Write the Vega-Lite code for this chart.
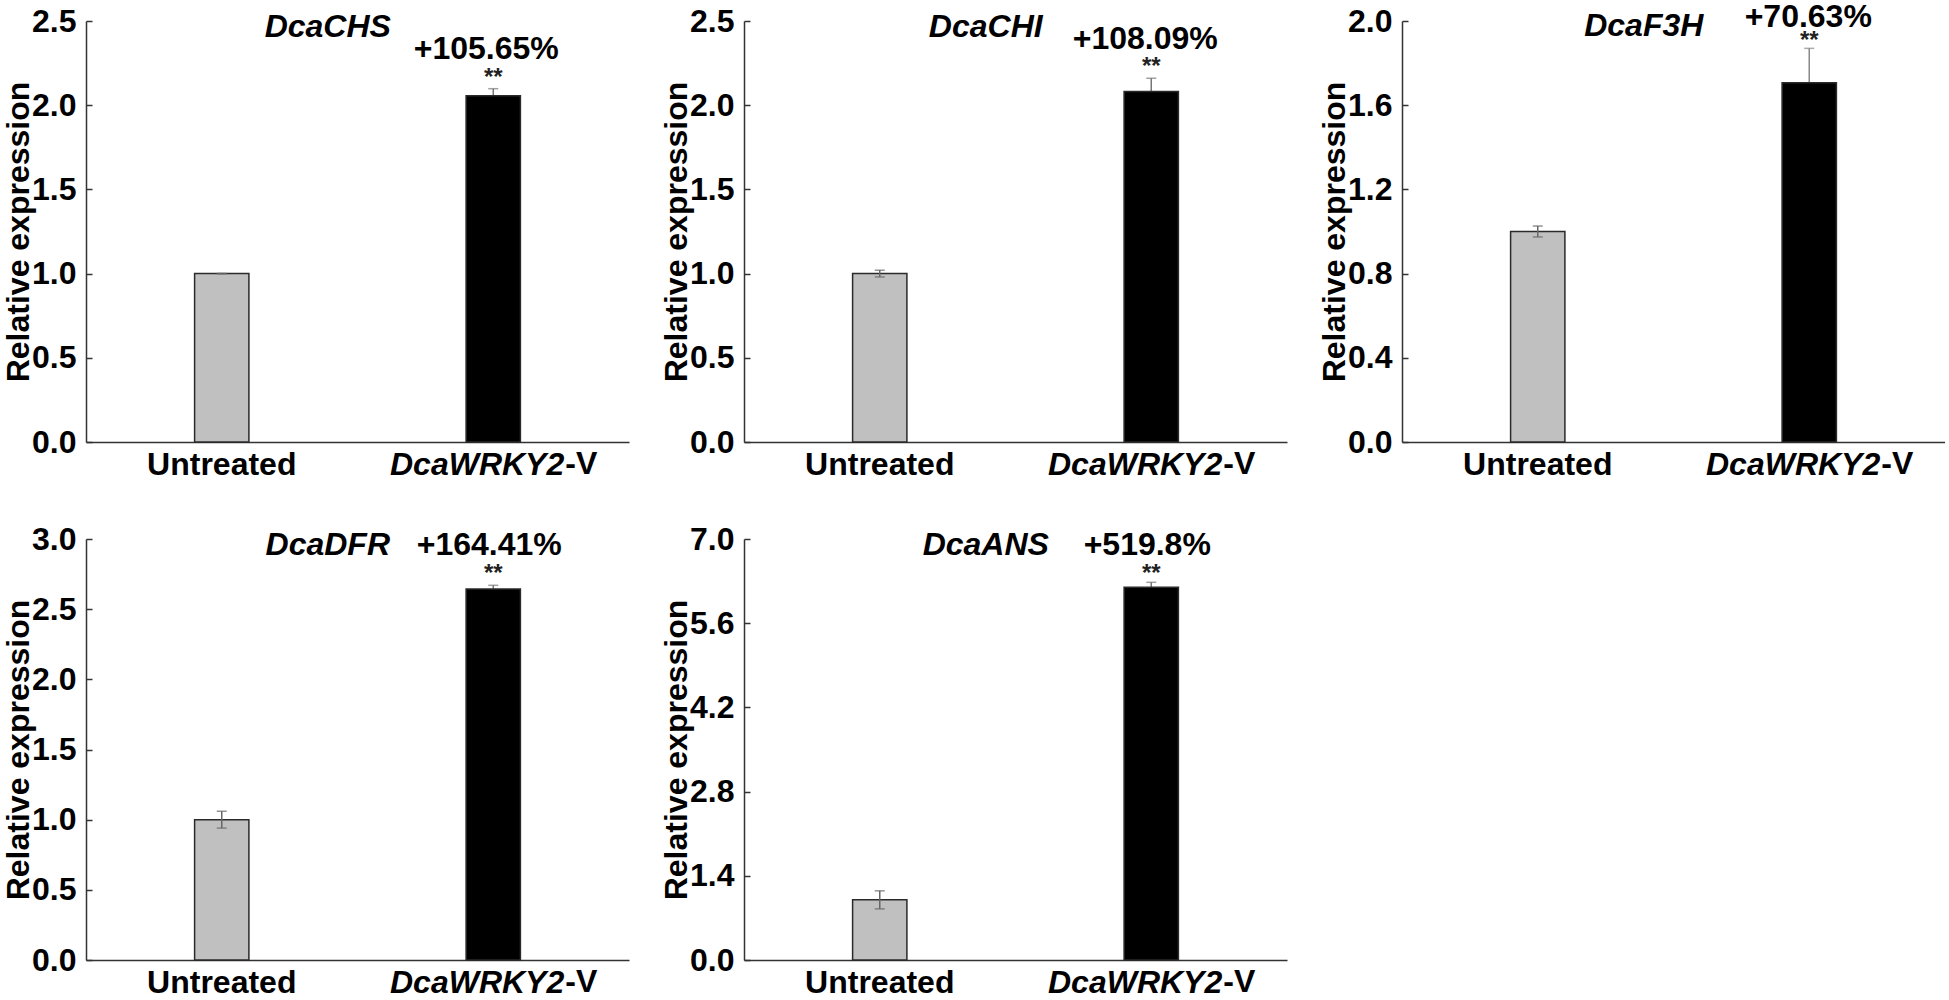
{
  "$schema": "https://vega.github.io/schema/vega-lite/v6.json",
  "background": "white",
  "padding": {"left": 2, "top": 0, "right": 0, "bottom": 0},
  "columns": 3,
  "spacing": {"row": 97, "column": 115},
  "bounds": "flush",
  "datasets": {
    "all": [
      {"gene": "DcaCHS", "kind": "bar", "group": "Untreated", "value": 1.0, "lo": 1.0, "hi": 1.0},
      {"gene": "DcaCHS", "kind": "bar", "group": "DcaWRKY2-V", "value": 2.0565, "lo": 2.017, "hi": 2.098},
      {"gene": "DcaCHS", "kind": "title", "group": "Untreated", "label": "DcaCHS", "value": 2.465},
      {"gene": "DcaCHS", "kind": "pct", "group": "DcaWRKY2-V", "label": "+105.65%", "value": 2.333},
      {"gene": "DcaCHS", "kind": "sig", "group": "DcaWRKY2-V", "label": "**", "value": 2.2},
      {"gene": "DcaCHS", "kind": "suffix", "group": "DcaWRKY2-V", "label": "-V", "value": 0},

      {"gene": "DcaCHI", "kind": "bar", "group": "Untreated", "value": 1.0, "lo": 0.98, "hi": 1.02},
      {"gene": "DcaCHI", "kind": "bar", "group": "DcaWRKY2-V", "value": 2.0809, "lo": 2.005, "hi": 2.16},
      {"gene": "DcaCHI", "kind": "title", "group": "Untreated", "label": "DcaCHI", "value": 2.465},
      {"gene": "DcaCHI", "kind": "pct", "group": "DcaWRKY2-V", "label": "+108.09%", "value": 2.393},
      {"gene": "DcaCHI", "kind": "sig", "group": "DcaWRKY2-V", "label": "**", "value": 2.26},
      {"gene": "DcaCHI", "kind": "suffix", "group": "DcaWRKY2-V", "label": "-V", "value": 0},

      {"gene": "DcaF3H", "kind": "bar", "group": "Untreated", "value": 1.0, "lo": 0.974, "hi": 1.026},
      {"gene": "DcaF3H", "kind": "bar", "group": "DcaWRKY2-V", "value": 1.7063, "lo": 1.546, "hi": 1.87},
      {"gene": "DcaF3H", "kind": "title", "group": "Untreated", "label": "DcaF3H", "value": 1.976},
      {"gene": "DcaF3H", "kind": "pct", "group": "DcaWRKY2-V", "label": "+70.63%", "value": 2.02},
      {"gene": "DcaF3H", "kind": "sig", "group": "DcaWRKY2-V", "label": "**", "value": 1.94},
      {"gene": "DcaF3H", "kind": "suffix", "group": "DcaWRKY2-V", "label": "-V", "value": 0},

      {"gene": "DcaDFR", "kind": "bar", "group": "Untreated", "value": 1.0, "lo": 0.94, "hi": 1.06},
      {"gene": "DcaDFR", "kind": "bar", "group": "DcaWRKY2-V", "value": 2.6441, "lo": 2.62, "hi": 2.67},
      {"gene": "DcaDFR", "kind": "title", "group": "Untreated", "label": "DcaDFR", "value": 2.957},
      {"gene": "DcaDFR", "kind": "pct", "group": "DcaWRKY2-V", "label": "+164.41%", "value": 2.957},
      {"gene": "DcaDFR", "kind": "sig", "group": "DcaWRKY2-V", "label": "**", "value": 2.79},
      {"gene": "DcaDFR", "kind": "suffix", "group": "DcaWRKY2-V", "label": "-V", "value": 0},

      {"gene": "DcaANS", "kind": "bar", "group": "Untreated", "value": 1.0, "lo": 0.85, "hi": 1.15},
      {"gene": "DcaANS", "kind": "bar", "group": "DcaWRKY2-V", "value": 6.198, "lo": 6.12, "hi": 6.28},
      {"gene": "DcaANS", "kind": "title", "group": "Untreated", "label": "DcaANS", "value": 6.9},
      {"gene": "DcaANS", "kind": "pct", "group": "DcaWRKY2-V", "label": "+519.8%", "value": 6.9},
      {"gene": "DcaANS", "kind": "sig", "group": "DcaWRKY2-V", "label": "**", "value": 6.52},
      {"gene": "DcaANS", "kind": "suffix", "group": "DcaWRKY2-V", "label": "-V", "value": 0}
    ]
  },
  "concat": [
    {
      "width": 543, "height": 421,
      "data": {"name": "all"},
      "transform": [{"filter": "datum.gene === 'DcaCHS'"}],
      "encoding": {
        "x": {"field": "group", "type": "nominal", "sort": ["Untreated", "DcaWRKY2-V"], "scale": {"domain": ["Untreated", "DcaWRKY2-V"], "paddingInner": 0.8, "paddingOuter": 0.4}, "title": null,
          "axis": {"labelExpr": "datum.value === 'DcaWRKY2-V' ? 'DcaWRKY2' : datum.value",
            "labelFontStyle": {"condition": {"test": "datum.value === 'DcaWRKY2-V'", "value": "italic"}, "value": "normal"},
            "labelAlign": {"condition": {"test": "datum.value === 'DcaWRKY2-V'", "value": "right"}, "value": "center"},
            "labelOffset": {"condition": {"test": "datum.value === 'DcaWRKY2-V'", "value": 71}, "value": 0}}},
        "y": {"field": "value", "type": "quantitative", "scale": {"domain": [0, 2.5], "nice": false}, "title": "Relative expression", "axis": {"values": [0, 0.5, 1, 1.5, 2, 2.5], "format": ".1f"}}
      },
      "layer": [
        {"transform": [{"filter": "datum.kind === 'bar' && datum.group === 'DcaWRKY2-V'"}], "mark": {"type": "rule", "color": "#777", "strokeWidth": 1.5}, "encoding": {"y": {"field": "lo", "type": "quantitative", "scale": {"domain": [0, 2.5], "nice": false}, "title": "Relative expression"}, "y2": {"field": "hi"}}},
        {"transform": [{"filter": "datum.kind === 'bar' && datum.group === 'DcaWRKY2-V'"}], "mark": {"type": "tick", "orient": "horizontal", "size": 10, "thickness": 1.5, "color": "#777"}, "encoding": {"y": {"field": "hi", "type": "quantitative", "scale": {"domain": [0, 2.5], "nice": false}, "title": "Relative expression"}}},
        {"transform": [{"filter": "datum.kind === 'bar'"}], "mark": {"type": "bar", "stroke": "#2a2a2a", "strokeWidth": 1.5}, "encoding": {"color": {"field": "group", "type": "nominal", "scale": {"domain": ["Untreated", "DcaWRKY2-V"], "range": ["#c0c0c0", "#000000"]}, "legend": null}}},
        {"transform": [{"filter": "datum.kind === 'bar' && datum.group === 'Untreated'"}], "mark": {"type": "rule", "color": "#666", "strokeWidth": 1.5}, "encoding": {"y": {"field": "lo", "type": "quantitative", "scale": {"domain": [0, 2.5], "nice": false}, "title": "Relative expression"}, "y2": {"field": "hi"}}},
        {"transform": [{"filter": "datum.kind === 'bar' && datum.group === 'Untreated'"}], "mark": {"type": "tick", "orient": "horizontal", "size": 10, "thickness": 1.5, "color": "#666"}, "encoding": {"y": {"field": "lo", "type": "quantitative", "scale": {"domain": [0, 2.5], "nice": false}, "title": "Relative expression"}}},
        {"transform": [{"filter": "datum.kind === 'bar' && datum.group === 'Untreated'"}], "mark": {"type": "tick", "orient": "horizontal", "size": 10, "thickness": 1.5, "color": "#666"}, "encoding": {"y": {"field": "hi", "type": "quantitative", "scale": {"domain": [0, 2.5], "nice": false}, "title": "Relative expression"}}},
        {"transform": [{"filter": "datum.kind === 'title'"}], "mark": {"type": "text", "fontSize": 32, "fontWeight": "bold", "fontStyle": "italic", "align": "center", "baseline": "middle", "dx": 106, "color": "#000"}, "encoding": {"text": {"field": "label"}}},
        {"transform": [{"filter": "datum.kind === 'pct'"}], "mark": {"type": "text", "fontSize": 32, "fontWeight": "bold", "align": "center", "baseline": "middle", "dx": -7, "color": "#000"}, "encoding": {"text": {"field": "label"}}},
        {"transform": [{"filter": "datum.kind === 'sig'"}], "mark": {"type": "text", "fontSize": 24, "fontWeight": "bold", "align": "center", "baseline": "middle", "dy": 6, "color": "#222"}, "encoding": {"text": {"field": "label"}}},
        {"transform": [{"filter": "datum.kind === 'suffix'"}], "mark": {"type": "text", "fontSize": 32, "fontWeight": "bold", "align": "left", "baseline": "top", "dx": 72, "dy": 7, "color": "#000"}, "encoding": {"text": {"field": "label"}}}
      ]
    },
    {
      "width": 543, "height": 421,
      "data": {"name": "all"},
      "transform": [{"filter": "datum.gene === 'DcaCHI'"}],
      "encoding": {
        "x": {"field": "group", "type": "nominal", "sort": ["Untreated", "DcaWRKY2-V"], "scale": {"domain": ["Untreated", "DcaWRKY2-V"], "paddingInner": 0.8, "paddingOuter": 0.4}, "title": null,
          "axis": {"labelExpr": "datum.value === 'DcaWRKY2-V' ? 'DcaWRKY2' : datum.value",
            "labelFontStyle": {"condition": {"test": "datum.value === 'DcaWRKY2-V'", "value": "italic"}, "value": "normal"},
            "labelAlign": {"condition": {"test": "datum.value === 'DcaWRKY2-V'", "value": "right"}, "value": "center"},
            "labelOffset": {"condition": {"test": "datum.value === 'DcaWRKY2-V'", "value": 71}, "value": 0}}},
        "y": {"field": "value", "type": "quantitative", "scale": {"domain": [0, 2.5], "nice": false}, "title": "Relative expression", "axis": {"values": [0, 0.5, 1, 1.5, 2, 2.5], "format": ".1f"}}
      },
      "layer": [
        {"transform": [{"filter": "datum.kind === 'bar' && datum.group === 'DcaWRKY2-V'"}], "mark": {"type": "rule", "color": "#777", "strokeWidth": 1.5}, "encoding": {"y": {"field": "lo", "type": "quantitative", "scale": {"domain": [0, 2.5], "nice": false}, "title": "Relative expression"}, "y2": {"field": "hi"}}},
        {"transform": [{"filter": "datum.kind === 'bar' && datum.group === 'DcaWRKY2-V'"}], "mark": {"type": "tick", "orient": "horizontal", "size": 10, "thickness": 1.5, "color": "#777"}, "encoding": {"y": {"field": "hi", "type": "quantitative", "scale": {"domain": [0, 2.5], "nice": false}, "title": "Relative expression"}}},
        {"transform": [{"filter": "datum.kind === 'bar'"}], "mark": {"type": "bar", "stroke": "#2a2a2a", "strokeWidth": 1.5}, "encoding": {"color": {"field": "group", "type": "nominal", "scale": {"domain": ["Untreated", "DcaWRKY2-V"], "range": ["#c0c0c0", "#000000"]}, "legend": null}}},
        {"transform": [{"filter": "datum.kind === 'bar' && datum.group === 'Untreated'"}], "mark": {"type": "rule", "color": "#666", "strokeWidth": 1.5}, "encoding": {"y": {"field": "lo", "type": "quantitative", "scale": {"domain": [0, 2.5], "nice": false}, "title": "Relative expression"}, "y2": {"field": "hi"}}},
        {"transform": [{"filter": "datum.kind === 'bar' && datum.group === 'Untreated'"}], "mark": {"type": "tick", "orient": "horizontal", "size": 10, "thickness": 1.5, "color": "#666"}, "encoding": {"y": {"field": "lo", "type": "quantitative", "scale": {"domain": [0, 2.5], "nice": false}, "title": "Relative expression"}}},
        {"transform": [{"filter": "datum.kind === 'bar' && datum.group === 'Untreated'"}], "mark": {"type": "tick", "orient": "horizontal", "size": 10, "thickness": 1.5, "color": "#666"}, "encoding": {"y": {"field": "hi", "type": "quantitative", "scale": {"domain": [0, 2.5], "nice": false}, "title": "Relative expression"}}},
        {"transform": [{"filter": "datum.kind === 'title'"}], "mark": {"type": "text", "fontSize": 32, "fontWeight": "bold", "fontStyle": "italic", "align": "center", "baseline": "middle", "dx": 106, "color": "#000"}, "encoding": {"text": {"field": "label"}}},
        {"transform": [{"filter": "datum.kind === 'pct'"}], "mark": {"type": "text", "fontSize": 32, "fontWeight": "bold", "align": "center", "baseline": "middle", "dx": -6, "color": "#000"}, "encoding": {"text": {"field": "label"}}},
        {"transform": [{"filter": "datum.kind === 'sig'"}], "mark": {"type": "text", "fontSize": 24, "fontWeight": "bold", "align": "center", "baseline": "middle", "dy": 6, "color": "#222"}, "encoding": {"text": {"field": "label"}}},
        {"transform": [{"filter": "datum.kind === 'suffix'"}], "mark": {"type": "text", "fontSize": 32, "fontWeight": "bold", "align": "left", "baseline": "top", "dx": 72, "dy": 7, "color": "#000"}, "encoding": {"text": {"field": "label"}}}
      ]
    },
    {
      "width": 543, "height": 421,
      "data": {"name": "all"},
      "transform": [{"filter": "datum.gene === 'DcaF3H'"}],
      "encoding": {
        "x": {"field": "group", "type": "nominal", "sort": ["Untreated", "DcaWRKY2-V"], "scale": {"domain": ["Untreated", "DcaWRKY2-V"], "paddingInner": 0.8, "paddingOuter": 0.4}, "title": null,
          "axis": {"labelExpr": "datum.value === 'DcaWRKY2-V' ? 'DcaWRKY2' : datum.value",
            "labelFontStyle": {"condition": {"test": "datum.value === 'DcaWRKY2-V'", "value": "italic"}, "value": "normal"},
            "labelAlign": {"condition": {"test": "datum.value === 'DcaWRKY2-V'", "value": "right"}, "value": "center"},
            "labelOffset": {"condition": {"test": "datum.value === 'DcaWRKY2-V'", "value": 71}, "value": 0}}},
        "y": {"field": "value", "type": "quantitative", "scale": {"domain": [0, 2.0], "nice": false}, "title": "Relative expression", "axis": {"values": [0, 0.4, 0.8, 1.2, 1.6, 2.0], "format": ".1f"}}
      },
      "layer": [
        {"transform": [{"filter": "datum.kind === 'bar' && datum.group === 'DcaWRKY2-V'"}], "mark": {"type": "rule", "color": "#888", "strokeWidth": 1.5}, "encoding": {"y": {"field": "lo", "type": "quantitative", "scale": {"domain": [0, 2.0], "nice": false}, "title": "Relative expression"}, "y2": {"field": "hi"}}},
        {"transform": [{"filter": "datum.kind === 'bar' && datum.group === 'DcaWRKY2-V'"}], "mark": {"type": "tick", "orient": "horizontal", "size": 10, "thickness": 1.5, "color": "#888"}, "encoding": {"y": {"field": "hi", "type": "quantitative", "scale": {"domain": [0, 2.0], "nice": false}, "title": "Relative expression"}}},
        {"transform": [{"filter": "datum.kind === 'bar'"}], "mark": {"type": "bar", "stroke": "#2a2a2a", "strokeWidth": 1.5}, "encoding": {"color": {"field": "group", "type": "nominal", "scale": {"domain": ["Untreated", "DcaWRKY2-V"], "range": ["#c0c0c0", "#000000"]}, "legend": null}}},
        {"transform": [{"filter": "datum.kind === 'bar' && datum.group === 'Untreated'"}], "mark": {"type": "rule", "color": "#666", "strokeWidth": 1.5}, "encoding": {"y": {"field": "lo", "type": "quantitative", "scale": {"domain": [0, 2.0], "nice": false}, "title": "Relative expression"}, "y2": {"field": "hi"}}},
        {"transform": [{"filter": "datum.kind === 'bar' && datum.group === 'Untreated'"}], "mark": {"type": "tick", "orient": "horizontal", "size": 10, "thickness": 1.5, "color": "#666"}, "encoding": {"y": {"field": "lo", "type": "quantitative", "scale": {"domain": [0, 2.0], "nice": false}, "title": "Relative expression"}}},
        {"transform": [{"filter": "datum.kind === 'bar' && datum.group === 'Untreated'"}], "mark": {"type": "tick", "orient": "horizontal", "size": 10, "thickness": 1.5, "color": "#666"}, "encoding": {"y": {"field": "hi", "type": "quantitative", "scale": {"domain": [0, 2.0], "nice": false}, "title": "Relative expression"}}},
        {"transform": [{"filter": "datum.kind === 'title'"}], "mark": {"type": "text", "fontSize": 32, "fontWeight": "bold", "fontStyle": "italic", "align": "center", "baseline": "middle", "dx": 106, "color": "#000"}, "encoding": {"text": {"field": "label"}}},
        {"transform": [{"filter": "datum.kind === 'pct'"}], "mark": {"type": "text", "fontSize": 32, "fontWeight": "bold", "align": "center", "baseline": "middle", "dx": -1, "color": "#000"}, "encoding": {"text": {"field": "label"}}},
        {"transform": [{"filter": "datum.kind === 'sig'"}], "mark": {"type": "text", "fontSize": 24, "fontWeight": "bold", "align": "center", "baseline": "middle", "dy": 7, "color": "#222"}, "encoding": {"text": {"field": "label"}}},
        {"transform": [{"filter": "datum.kind === 'suffix'"}], "mark": {"type": "text", "fontSize": 32, "fontWeight": "bold", "align": "left", "baseline": "top", "dx": 72, "dy": 7, "color": "#000"}, "encoding": {"text": {"field": "label"}}}
      ]
    },
    {
      "width": 543, "height": 421,
      "data": {"name": "all"},
      "transform": [{"filter": "datum.gene === 'DcaDFR'"}],
      "encoding": {
        "x": {"field": "group", "type": "nominal", "sort": ["Untreated", "DcaWRKY2-V"], "scale": {"domain": ["Untreated", "DcaWRKY2-V"], "paddingInner": 0.8, "paddingOuter": 0.4}, "title": null,
          "axis": {"labelExpr": "datum.value === 'DcaWRKY2-V' ? 'DcaWRKY2' : datum.value",
            "labelFontStyle": {"condition": {"test": "datum.value === 'DcaWRKY2-V'", "value": "italic"}, "value": "normal"},
            "labelAlign": {"condition": {"test": "datum.value === 'DcaWRKY2-V'", "value": "right"}, "value": "center"},
            "labelOffset": {"condition": {"test": "datum.value === 'DcaWRKY2-V'", "value": 71}, "value": 0}}},
        "y": {"field": "value", "type": "quantitative", "scale": {"domain": [0, 3.0], "nice": false}, "title": "Relative expression", "axis": {"values": [0, 0.5, 1, 1.5, 2, 2.5, 3.0], "format": ".1f"}}
      },
      "layer": [
        {"transform": [{"filter": "datum.kind === 'bar' && datum.group === 'DcaWRKY2-V'"}], "mark": {"type": "rule", "color": "#777", "strokeWidth": 1.5}, "encoding": {"y": {"field": "lo", "type": "quantitative", "scale": {"domain": [0, 3.0], "nice": false}, "title": "Relative expression"}, "y2": {"field": "hi"}}},
        {"transform": [{"filter": "datum.kind === 'bar' && datum.group === 'DcaWRKY2-V'"}], "mark": {"type": "tick", "orient": "horizontal", "size": 10, "thickness": 1.5, "color": "#777"}, "encoding": {"y": {"field": "hi", "type": "quantitative", "scale": {"domain": [0, 3.0], "nice": false}, "title": "Relative expression"}}},
        {"transform": [{"filter": "datum.kind === 'bar'"}], "mark": {"type": "bar", "stroke": "#2a2a2a", "strokeWidth": 1.5}, "encoding": {"color": {"field": "group", "type": "nominal", "scale": {"domain": ["Untreated", "DcaWRKY2-V"], "range": ["#c0c0c0", "#000000"]}, "legend": null}}},
        {"transform": [{"filter": "datum.kind === 'bar' && datum.group === 'Untreated'"}], "mark": {"type": "rule", "color": "#666", "strokeWidth": 1.5}, "encoding": {"y": {"field": "lo", "type": "quantitative", "scale": {"domain": [0, 3.0], "nice": false}, "title": "Relative expression"}, "y2": {"field": "hi"}}},
        {"transform": [{"filter": "datum.kind === 'bar' && datum.group === 'Untreated'"}], "mark": {"type": "tick", "orient": "horizontal", "size": 10, "thickness": 1.5, "color": "#666"}, "encoding": {"y": {"field": "lo", "type": "quantitative", "scale": {"domain": [0, 3.0], "nice": false}, "title": "Relative expression"}}},
        {"transform": [{"filter": "datum.kind === 'bar' && datum.group === 'Untreated'"}], "mark": {"type": "tick", "orient": "horizontal", "size": 10, "thickness": 1.5, "color": "#666"}, "encoding": {"y": {"field": "hi", "type": "quantitative", "scale": {"domain": [0, 3.0], "nice": false}, "title": "Relative expression"}}},
        {"transform": [{"filter": "datum.kind === 'title'"}], "mark": {"type": "text", "fontSize": 32, "fontWeight": "bold", "fontStyle": "italic", "align": "center", "baseline": "middle", "dx": 106, "color": "#000"}, "encoding": {"text": {"field": "label"}}},
        {"transform": [{"filter": "datum.kind === 'pct'"}], "mark": {"type": "text", "fontSize": 32, "fontWeight": "bold", "align": "center", "baseline": "middle", "dx": -4, "color": "#000"}, "encoding": {"text": {"field": "label"}}},
        {"transform": [{"filter": "datum.kind === 'sig'"}], "mark": {"type": "text", "fontSize": 24, "fontWeight": "bold", "align": "center", "baseline": "middle", "dy": 6, "color": "#222"}, "encoding": {"text": {"field": "label"}}},
        {"transform": [{"filter": "datum.kind === 'suffix'"}], "mark": {"type": "text", "fontSize": 32, "fontWeight": "bold", "align": "left", "baseline": "top", "dx": 72, "dy": 7, "color": "#000"}, "encoding": {"text": {"field": "label"}}}
      ]
    },
    {
      "width": 543, "height": 421,
      "data": {"name": "all"},
      "transform": [{"filter": "datum.gene === 'DcaANS'"}],
      "encoding": {
        "x": {"field": "group", "type": "nominal", "sort": ["Untreated", "DcaWRKY2-V"], "scale": {"domain": ["Untreated", "DcaWRKY2-V"], "paddingInner": 0.8, "paddingOuter": 0.4}, "title": null,
          "axis": {"labelExpr": "datum.value === 'DcaWRKY2-V' ? 'DcaWRKY2' : datum.value",
            "labelFontStyle": {"condition": {"test": "datum.value === 'DcaWRKY2-V'", "value": "italic"}, "value": "normal"},
            "labelAlign": {"condition": {"test": "datum.value === 'DcaWRKY2-V'", "value": "right"}, "value": "center"},
            "labelOffset": {"condition": {"test": "datum.value === 'DcaWRKY2-V'", "value": 71}, "value": 0}}},
        "y": {"field": "value", "type": "quantitative", "scale": {"domain": [0, 7.0], "nice": false}, "title": "Relative expression", "axis": {"values": [0, 1.4, 2.8, 4.2, 5.6, 7.0], "format": ".1f"}}
      },
      "layer": [
        {"transform": [{"filter": "datum.kind === 'bar' && datum.group === 'DcaWRKY2-V'"}], "mark": {"type": "rule", "color": "#777", "strokeWidth": 1.5}, "encoding": {"y": {"field": "lo", "type": "quantitative", "scale": {"domain": [0, 7.0], "nice": false}, "title": "Relative expression"}, "y2": {"field": "hi"}}},
        {"transform": [{"filter": "datum.kind === 'bar' && datum.group === 'DcaWRKY2-V'"}], "mark": {"type": "tick", "orient": "horizontal", "size": 10, "thickness": 1.5, "color": "#777"}, "encoding": {"y": {"field": "hi", "type": "quantitative", "scale": {"domain": [0, 7.0], "nice": false}, "title": "Relative expression"}}},
        {"transform": [{"filter": "datum.kind === 'bar'"}], "mark": {"type": "bar", "stroke": "#2a2a2a", "strokeWidth": 1.5}, "encoding": {"color": {"field": "group", "type": "nominal", "scale": {"domain": ["Untreated", "DcaWRKY2-V"], "range": ["#c0c0c0", "#000000"]}, "legend": null}}},
        {"transform": [{"filter": "datum.kind === 'bar' && datum.group === 'Untreated'"}], "mark": {"type": "rule", "color": "#666", "strokeWidth": 1.5}, "encoding": {"y": {"field": "lo", "type": "quantitative", "scale": {"domain": [0, 7.0], "nice": false}, "title": "Relative expression"}, "y2": {"field": "hi"}}},
        {"transform": [{"filter": "datum.kind === 'bar' && datum.group === 'Untreated'"}], "mark": {"type": "tick", "orient": "horizontal", "size": 10, "thickness": 1.5, "color": "#666"}, "encoding": {"y": {"field": "lo", "type": "quantitative", "scale": {"domain": [0, 7.0], "nice": false}, "title": "Relative expression"}}},
        {"transform": [{"filter": "datum.kind === 'bar' && datum.group === 'Untreated'"}], "mark": {"type": "tick", "orient": "horizontal", "size": 10, "thickness": 1.5, "color": "#666"}, "encoding": {"y": {"field": "hi", "type": "quantitative", "scale": {"domain": [0, 7.0], "nice": false}, "title": "Relative expression"}}},
        {"transform": [{"filter": "datum.kind === 'title'"}], "mark": {"type": "text", "fontSize": 32, "fontWeight": "bold", "fontStyle": "italic", "align": "center", "baseline": "middle", "dx": 106, "color": "#000"}, "encoding": {"text": {"field": "label"}}},
        {"transform": [{"filter": "datum.kind === 'pct'"}], "mark": {"type": "text", "fontSize": 32, "fontWeight": "bold", "align": "center", "baseline": "middle", "dx": -4, "color": "#000"}, "encoding": {"text": {"field": "label"}}},
        {"transform": [{"filter": "datum.kind === 'sig'"}], "mark": {"type": "text", "fontSize": 24, "fontWeight": "bold", "align": "center", "baseline": "middle", "dy": 6, "color": "#222"}, "encoding": {"text": {"field": "label"}}},
        {"transform": [{"filter": "datum.kind === 'suffix'"}], "mark": {"type": "text", "fontSize": 32, "fontWeight": "bold", "align": "left", "baseline": "top", "dx": 72, "dy": 7, "color": "#000"}, "encoding": {"text": {"field": "label"}}}
      ]
    }
  ],
  "config": {
    "view": {"stroke": null},
    "font": "Liberation Sans",
    "axis": {"labelFont": "Liberation Sans", "labelFontSize": 32, "labelFontWeight": "bold", "labelColor": "#000", "titleFont": "Liberation Sans", "titleFontSize": 32, "titleFontWeight": "bold", "titleColor": "#000", "domainColor": "#333", "domainWidth": 1.5, "tickColor": "#333", "tickWidth": 1.5, "grid": false, "labelOverlap": false},
    "axisX": {"ticks": false, "tickSize": 0, "labelPadding": 7, "labelAngle": 0},
    "axisY": {"tickSize": -6, "labelPadding": 16, "titlePadding": -4, "labelFlush": false},
    "text": {"font": "Liberation Sans"}
  }
}
